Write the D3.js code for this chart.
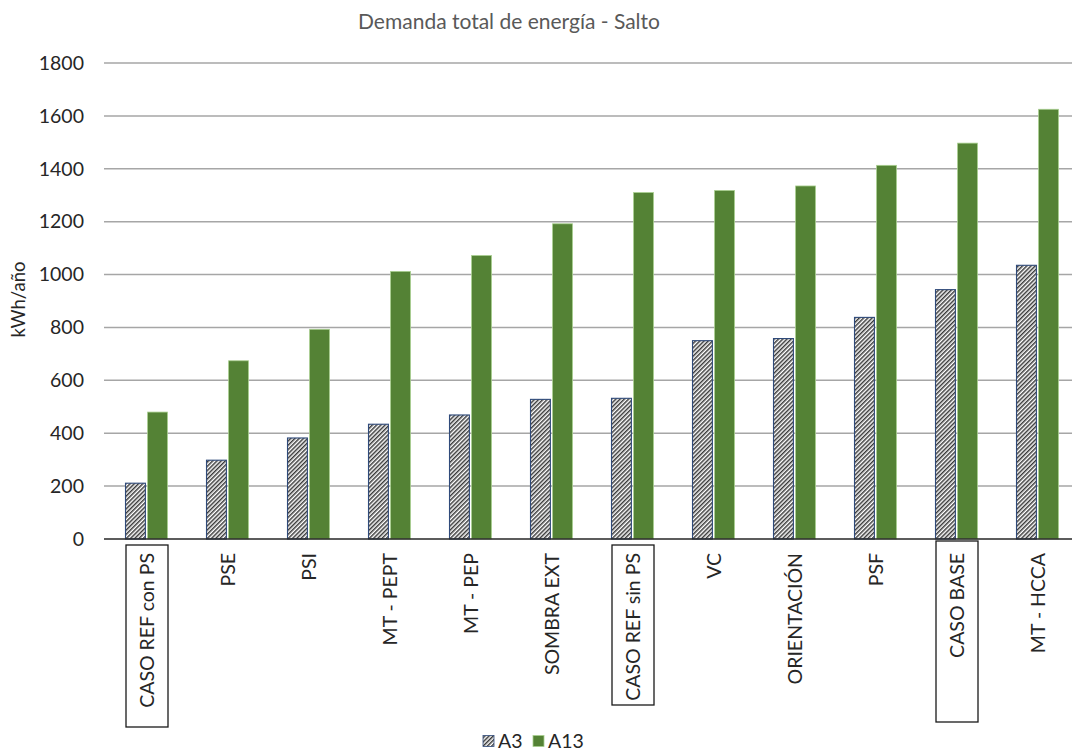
<!DOCTYPE html>
<html>
<head>
<meta charset="utf-8">
<script src="https://cdn.jsdelivr.net/npm/d3@7"></script>
<style>
  html, body { margin: 0; padding: 0; background: #fff; }
  svg { display: block; font-family: Lato, "Open Sans", sans-serif; }
</style>
</head>
<body>
<svg id="chart" width="1072" height="751"></svg>
<script>
// Energy demand per scenario (kWh/año), two building types
const categories = ["CASO REF con PS", "PSE", "PSI", "MT - PEPT", "MT - PEP", "SOMBRA EXT",
  "CASO REF sin PS", "VC", "ORIENTACIÓN", "PSF", "CASO BASE", "MT - HCCA"];
const seriesNames = ["A3", "A13"];
const valuesA3  = [211, 298, 382, 434, 469, 528, 532, 750, 758, 838, 943, 1035];
const valuesA13 = [480, 674, 793, 1012, 1072, 1192, 1310, 1318, 1335, 1413, 1497, 1625];
const yTicks = [0, 200, 400, 600, 800, 1000, 1200, 1400, 1600, 1800];
// scenarios singled out with a frame around their label
const framedCategories = ["CASO REF con PS", "CASO REF sin PS", "CASO BASE"];

const titleText = "Demanda total de energía - Salto";
const yLabelText = "kWh/año";

const svg = d3.select("#chart");
const W = 1072, H = 751;
const m = { left: 106, right: -6, top: 63, bottom: 212 };
const plotW = W - m.left - m.right;
const plotH = H - m.top - m.bottom;

const defs = svg.append("defs");
const hatch = defs.append("pattern")
  .attr("id", "hatchA3")
  .attr("patternUnits", "userSpaceOnUse")
  .attr("width", 3).attr("height", 3)
  .attr("patternTransform", "rotate(45)");
hatch.append("rect").attr("width", 3).attr("height", 3).attr("fill", "#ffffff");
hatch.append("rect").attr("x", 0).attr("y", 0).attr("width", 1.5).attr("height", 3).attr("fill", "#3a3a3a");

const clip = defs.append("clipPath").attr("id", "plotClip");
clip.append("rect").attr("x", -5).attr("y", -5).attr("width", W - m.left + 5).attr("height", plotH + 10);

const g = svg.append("g").attr("transform", `translate(${m.left},${m.top})`);

const x0 = d3.scaleBand().domain(categories).range([0, plotW]).paddingInner(0).paddingOuter(0);
const groupW = 42;
const x1 = d3.scaleBand().domain(seriesNames).range([0, groupW]).paddingInner(0.1);
const y = d3.scaleLinear().domain([0, 1800]).range([plotH, 0]);

// horizontal gridlines
g.append("g").attr("clip-path", "url(#plotClip)")
  .selectAll("line").data(yTicks.filter(t => t > 0)).join("line")
  .attr("x1", -2).attr("x2", plotW)
  .attr("y1", d => y(d)).attr("y2", d => y(d))
  .attr("stroke", "#a6a6a6").attr("stroke-width", 1.5);

// y axis tick labels
const yAxis = d3.axisLeft(y).tickValues(yTicks).tickSize(0).tickPadding(22).tickFormat(d3.format("d"));
const yg = g.append("g").call(yAxis);
yg.select(".domain").remove();
yg.selectAll("text").attr("font-size", 19.5).attr("fill", "#262626")
  .attr("font-family", "Lato, 'Open Sans', sans-serif");

// bars
const rows = categories.map((c, i) => ({ cat: c, vals: [
  { s: "A3", v: valuesA3[i] }, { s: "A13", v: valuesA13[i] } ] }));

const groups = g.append("g").selectAll("g").data(rows).join("g")
  .attr("transform", d => `translate(${x0(d.cat) + x0.bandwidth() / 2 - groupW / 2},0)`);

groups.selectAll("rect").data(d => d.vals).join("rect")
  .attr("x", d => x1(d.s))
  .attr("width", x1.bandwidth())
  .attr("y", d => y(d.v))
  .attr("height", d => y(0) - y(d.v))
  .attr("fill", d => d.s === "A3" ? "url(#hatchA3)" : "#548235")
  .attr("stroke", d => d.s === "A3" ? "#2f4a7a" : "#a9cf8f")
  .attr("stroke-width", d => d.s === "A3" ? 1.1 : 0.8);

// category axis line
g.append("line")
  .attr("x1", -2).attr("x2", W - m.left)
  .attr("y1", y(0)).attr("y2", y(0))
  .attr("stroke", "#262626").attr("stroke-width", 1.5);

// rotated category labels
const labelTop = 14;
const xl = g.append("g").attr("transform", `translate(0,${plotH})`);
xl.selectAll("text").data(categories).join("text")
  .attr("transform", d => `translate(${x0(d) + x0.bandwidth() / 2 + 1},${labelTop}) rotate(-90)`)
  .attr("text-anchor", "end")
  .attr("dy", "0.35em")
  .attr("font-size", 19.5)
  .attr("fill", "#262626")
  .text(d => d);

// frames around highlighted labels: [offset below axis, length]
const frameSpan = { "CASO REF con PS": [6, 182], "CASO REF sin PS": [6, 160], "CASO BASE": [2, 181] };
xl.selectAll("rect.frame").data(framedCategories).join("rect")
  .attr("class", "frame")
  .attr("x", d => x0(d) + x0.bandwidth() / 2 - 20.5)
  .attr("y", d => frameSpan[d][0])
  .attr("width", 42)
  .attr("height", d => frameSpan[d][1])
  .attr("fill", "none")
  .attr("stroke", "#1a1a1a")
  .attr("stroke-width", 1.3);

// title
svg.append("text")
  .attr("x", 509).attr("y", 29)
  .attr("text-anchor", "middle")
  .attr("font-size", 21)
  .attr("fill", "#595959")
  .text(titleText);

// y axis title
svg.append("text")
  .attr("transform", `translate(25,${m.top + y(1000) + 25}) rotate(-90)`)
  .attr("text-anchor", "middle")
  .attr("font-size", 18.5)
  .attr("fill", "#262626")
  .text(yLabelText);

// legend
const legend = svg.append("g").attr("transform", "translate(483,741)");
const legendItems = legend.selectAll("g").data(seriesNames).join("g")
  .attr("transform", (d, i) => `translate(${i * 50},0)`);
legendItems.append("rect")
  .attr("x", 0).attr("y", -5.5).attr("width", 11).attr("height", 11)
  .attr("fill", d => d === "A3" ? "url(#hatchA3)" : "#548235")
  .attr("stroke", d => d === "A3" ? "#2f4a7a" : "#a9cf8f")
  .attr("stroke-width", 0.8);
legendItems.append("text")
  .attr("x", 15).attr("dy", "0.35em")
  .attr("font-size", 19.5).attr("fill", "#262626")
  .text(d => d);
</script>
</body>
</html>
